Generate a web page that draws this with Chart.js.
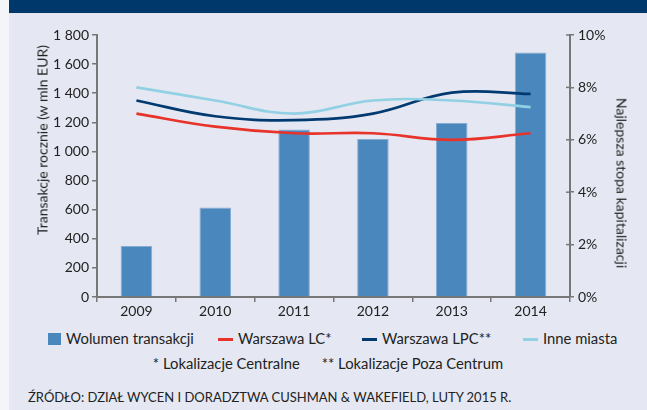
<!DOCTYPE html>
<html>
<head>
<meta charset="utf-8">
<script src="https://cdn.jsdelivr.net/npm/chart.js@4"></script>
<style>
  body { margin: 0; width: 647px; height: 410px; background: #f4f5f9; overflow: hidden; font-family: 'Lato', sans-serif; }
  #panel { position: absolute; left: 9px; top: 0; width: 638px; height: 410px; background: #e5e8f2; }
  #band { position: absolute; left: 0; top: 0; width: 638px; height: 13px; background: #00386b; }
  #wrap { position: absolute; left: 0; top: 0; width: 638px; height: 328px; }
  .axis-title { position: absolute; font-size: 14px; color: #222; white-space: nowrap; }
  #yTitle { left: 33px; top: 140px; transform: translate(-50%, -50%) rotate(-90deg); }
  #y1Title { left: 613px; top: 183px; transform: translate(-50%, -50%) rotate(90deg); }
  .leg { position: absolute; top: 329px; font-size: 14.8px; color: #222; white-space: nowrap; line-height: 18px; }
  .leg i { display: inline-block; vertical-align: middle; margin-right: 5px; position: relative; top: -1px; }
  .box { width: 13px; height: 12px; background: #4a87bd; }
  .ln { width: 15px; height: 3px; }
  #notes { position: absolute; top: 354px; left: 0; width: 638px; text-align: center; font-size: 14.8px; color: #222; }
  #notes span { margin: 0 11px; }
  #source { position: absolute; left: 19px; top: 389px; font-size: 13px; color: #222; white-space: nowrap; }
</style>
</head>
<body>
<div id="panel">
  <div id="band"></div>
  <div id="wrap"><canvas id="chart"></canvas></div>
  <div class="axis-title" id="yTitle">Transakcje rocznie (w mln EUR)</div>
  <div class="axis-title" id="y1Title">Najlepsza stopa kapitalizacji</div>
  <div class="leg" style="left:39px"><i class="box"></i>Wolumen transakcji</div>
  <div class="leg" style="left:209px"><i class="ln" style="background:#e8332b"></i>Warszawa LC*</div>
  <div class="leg" style="left:353px"><i class="ln" style="background:#003a70"></i>Warszawa LPC**</div>
  <div class="leg" style="left:514px"><i class="ln" style="background:#92d0e4"></i>Inne miasta</div>
  <div id="notes"><span>* Lokalizacje Centralne</span><span>** Lokalizacje Poza Centrum</span></div>
  <div id="source">ŹRÓDŁO: DZIAŁ WYCEN I DORADZTWA CUSHMAN &amp; WAKEFIELD, LUTY 2015 R.</div>
</div>
<script>
const years = ['2009', '2010', '2011', '2012', '2013', '2014'];
const volume = [350, 615, 1150, 1085, 1195, 1680];
const warsawLC = [7.0, 6.5, 6.25, 6.25, 6.0, 6.25];
const warsawLPC = [7.5, 6.9, 6.75, 7.0, 7.8, 7.75];
const otherCities = [8.0, 7.5, 7.0, 7.5, 7.5, 7.25];

const axisColor = '#777777';
const tickFont = { family: 'Lato', size: 14 };

function lineSet(label, data, color) {
    return {
        type: 'line',
        label: label,
        data: data,
        yAxisID: 'y1',
        borderColor: color,
        borderWidth: 2.7,
        pointRadius: 0,
        tension: 0.4,
        fill: false,
        order: 1
    };
}

// right axis ticks cross the axis line, so draw the inner half too
const innerTicks = {
    id: 'innerTicks',
    afterDraw(chart) {
        const s = chart.scales.y1;
        const ctx = chart.ctx;
        ctx.save();
        ctx.strokeStyle = axisColor;
        ctx.lineWidth = 1.5;
        s.ticks.forEach(t => {
            const y = s.getPixelForValue(t.value);
            ctx.beginPath();
            ctx.moveTo(s.left - 4, y);
            ctx.lineTo(s.left, y);
            ctx.stroke();
        });
        ctx.restore();
    }
};

new Chart(document.getElementById('chart'), {
    data: {
        labels: years,
        datasets: [
            lineSet('Warszawa LC*', warsawLC, '#e8332b'),
            lineSet('Inne miasta', otherCities, '#92d0e4'),
            lineSet('Warszawa LPC**', warsawLPC, '#003a70'),
            {
                type: 'bar',
                label: 'Wolumen transakcji',
                data: volume,
                yAxisID: 'y',
                backgroundColor: '#4a87bd',
                borderColor: '#86acd3',
                borderWidth: 1,
                barPercentage: 0.4,
                categoryPercentage: 1,
                order: 10
            }
        ]
    },
    options: {
        responsive: true,
        maintainAspectRatio: false,
        animation: false,
        layout: { padding: { left: 0, right: 0, top: 35, bottom: 0 } },
        plugins: { legend: { display: false }, tooltip: { enabled: false } },
        scales: {
            x: {
                offset: true,
                grid: { offset: true, drawOnChartArea: false, tickLength: 5, color: axisColor, lineWidth: 1.5 },
                border: { color: axisColor, width: 2 },
                ticks: { color: '#222', font: tickFont, padding: 1 },
                afterFit: s => { s.height = 31; }
            },
            y: {
                position: 'left',
                min: 0,
                max: 1800,
                grid: { drawOnChartArea: false, tickLength: 5, color: axisColor, lineWidth: 1.5 },
                border: { color: axisColor, width: 2 },
                ticks: {
                    stepSize: 200,
                    color: '#222',
                    font: tickFont,
                    padding: 3,
                    callback: v => v >= 1000 ? Math.floor(v / 1000) + ' ' + String(v % 1000).padStart(3, '0') : String(v)
                },
                afterFit: s => { s.width = 88; }
            },
            y1: {
                position: 'right',
                min: 0,
                max: 10,
                grid: { drawOnChartArea: false, tickLength: 4, color: axisColor, lineWidth: 1.5 },
                border: { color: axisColor, width: 2 },
                ticks: { stepSize: 2, color: '#222', font: tickFont, padding: 4, callback: v => v + '%' },
                afterFit: s => { s.width = 77; }
            }
        }
    },
    plugins: [innerTicks]
});
</script>
</body>
</html>
